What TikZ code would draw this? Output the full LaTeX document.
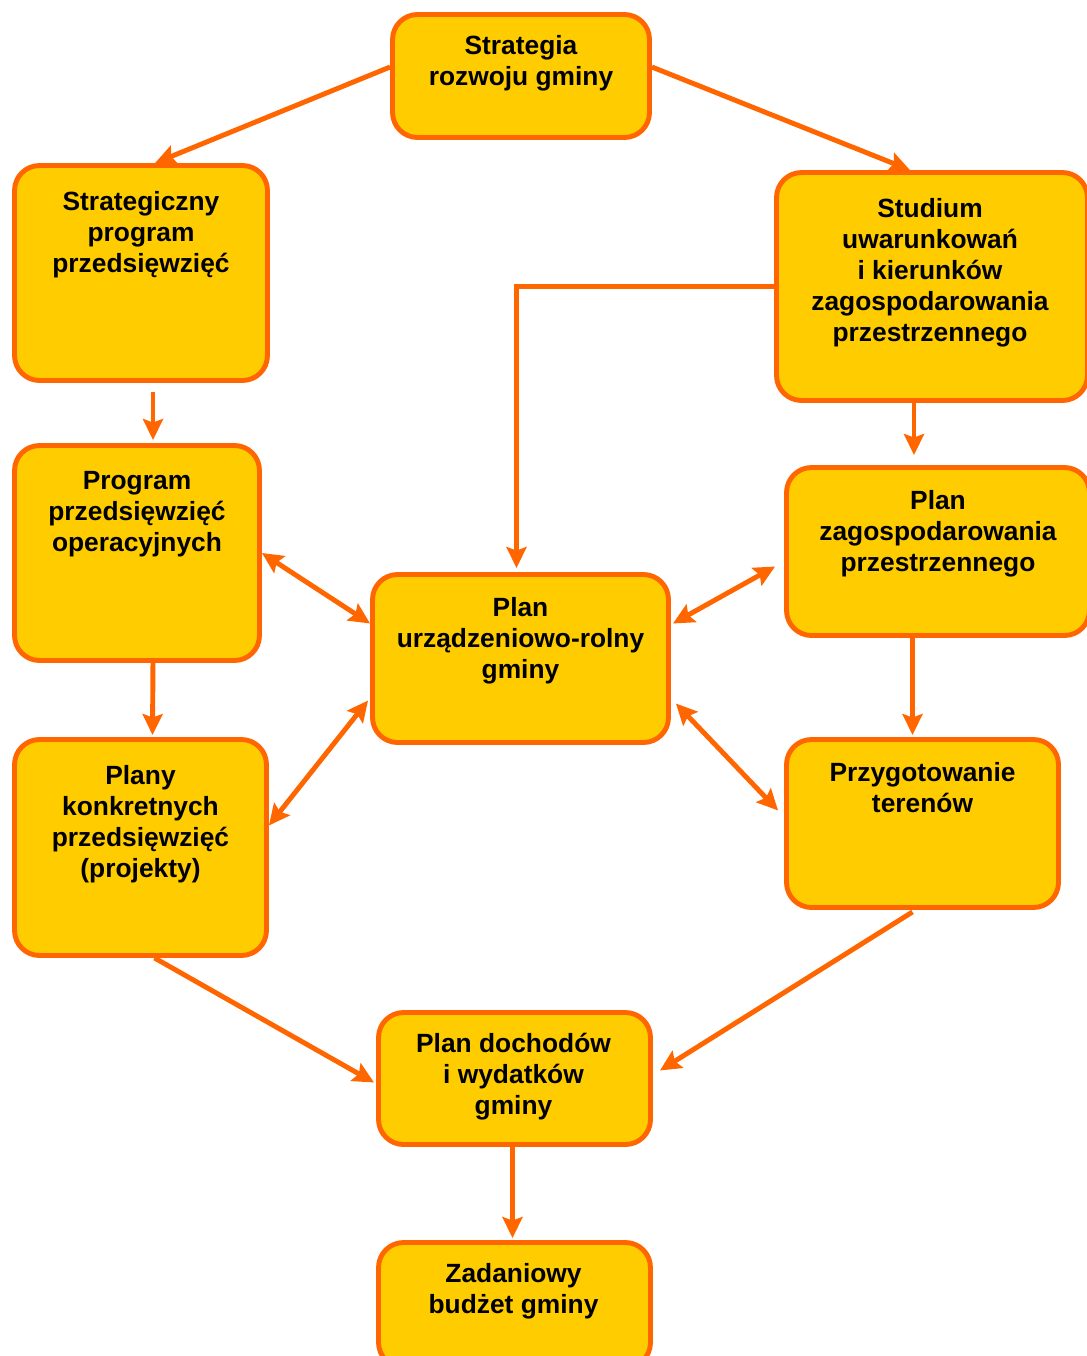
\documentclass[tikz,border=0pt]{standalone}
\usepackage{fontspec}
\setmainfont{Liberation Sans}
\usetikzlibrary{arrows.meta,calc}

\definecolor{boxfill}{HTML}{FFCC00}
\definecolor{boxline}{HTML}{FF6600}

\tikzset{
  box/.style={draw=boxline, fill=boxfill, line width=2.8pt, rounded corners=0.5cm, inner sep=0pt},
  boxtext/.style={font=\bfseries\fontsize{15}{17.6}\selectfont, align=center, anchor=north, inner sep=0pt},
  tip/.style={Stealth[length=0.42cm,width=0.4cm,inset=0.07cm]},
  link/.style={draw=boxline, line width=2.8pt, -{Stealth[length=0.42cm,width=0.4cm,inset=0.07cm]}},
  twolink/.style={link, {Stealth[length=0.42cm,width=0.4cm,inset=0.07cm]}-{Stealth[length=0.42cm,width=0.4cm,inset=0.07cm]}}
}

\begin{document}
\begin{tikzpicture}[x=0.02cm,y=-0.02cm]
  \useasboundingbox (0,0) rectangle (1086,1356);

  \node[box, minimum width=5.14cm, minimum height=2.46cm] (strat) at (521,76) {};
  \node[box, minimum width=5.06cm, minimum height=4.30cm] (sprog) at (141,273) {};
  \node[box, minimum width=6.22cm, minimum height=4.56cm] (studium) at (932,286.5) {};
  \node[box, minimum width=4.90cm, minimum height=4.30cm] (program) at (137,553) {};
  \node[box, minimum width=6.06cm, minimum height=3.36cm] (pzag) at (938,551.5) {};
  \node[box, minimum width=5.92cm, minimum height=3.36cm] (purz) at (520.5,658.5) {};
  \node[box, minimum width=5.04cm, minimum height=4.32cm] (plany) at (140.5,847.5) {};
  \node[box, minimum width=5.44cm, minimum height=3.36cm] (przyg) at (922.5,823.5) {};
  \node[box, minimum width=5.44cm, minimum height=2.64cm] (pdoch) at (514.5,1078.5) {};
  \node[box, minimum width=5.44cm, minimum height=2.50cm] (zad) at (514.5,1305) {};

  \node[boxtext] (strat-t) at ($(strat.north)+(0,23)$) {Strategia\\rozwoju gminy};
  \node[boxtext] (sprog-t) at ($(sprog.north)+(0,28)$) {Strategiczny\\program\\przedsięwzięć};
  \node[boxtext] (studium-t) at ($(studium.north)+(-2,28)$) {Studium\\uwarunkowań\\i kierunków\\zagospodarowania\\przestrzennego};
  \node[boxtext] (program-t) at ($(program.north)+(0,28)$) {Program\\przedsięwzięć\\operacyjnych};
  \node[boxtext] (pzag-t) at ($(pzag.north)+(0,25)$) {Plan\\zagospodarowania\\przestrzennego};
  \node[boxtext] (purz-t) at ($(purz.north)+(0,25)$) {Plan\\urządzeniowo-rolny\\gminy};
  \node[boxtext] (plany-t) at ($(plany.north)+(0,28)$) {Plany\\konkretnych\\przedsięwzięć\\(projekty)};
  \node[boxtext] (przyg-t) at ($(przyg.north)+(0,25)$) {Przygotowanie\\terenów};
  \node[boxtext] (pdoch-t) at ($(pdoch.north)+(-1,23)$) {Plan dochodów\\i wydatków\\gminy};
  \node[boxtext] (zad-t) at ($(zad.north)+(-1,23)$) {Zadaniowy\\budżet gminy};

  \draw[link] ($(strat.west)+(0,-9)$) -- ($(sprog.north)+(14,0)$);
  \draw[link] ($(strat.east)+(0,-9)$) -- ($(studium.north)+(-22,0)$);
  \draw[link] ($(sprog.south)+(12,9)$) -- ($(program.north)+(16,-3)$);
  \draw[link] (studium.west) -| ($(purz.north)+(-4,-4)$);
  \draw[link] ($(studium.south)+(-18,0)$) -- ($(pzag.north)+(-24,-10)$);
  \draw[twolink] (program.east) -- ($(purz.west)+(0,-35)$);
  \draw[twolink] ($(plany.east)+(0,-22)$) -- ($(purz.west)+(-2,42)$);
  \draw[twolink] ($(pzag.west)+(-9,15)$) -- ($(purz.east)+(2,-35)$);
  \draw[twolink] ($(purz.east)+(5,45)$) -- ($(przyg.west)+(-6,-13)$);
  \draw[link] ($(program.south)+(16,-3)$) -- ($(plany.north)+(12,-2)$);
  \draw[link] ($(pzag.south -| przyg.north)+(-10,0)$) -- ($(przyg.north)+(-10,-2)$);
  \draw[link] ($(plany.south)+(14,0)$) -- ($(pdoch.west)+(-2,4)$);
  \draw[link] ($(przyg.south)+(-10,2)$) -- ($(pdoch.east)+(7,-8)$);
  \draw[link] ($(pdoch.south)+(-2,0)$) -- ($(zad.north)+(-2,-2)$);
\end{tikzpicture}
\end{document}
